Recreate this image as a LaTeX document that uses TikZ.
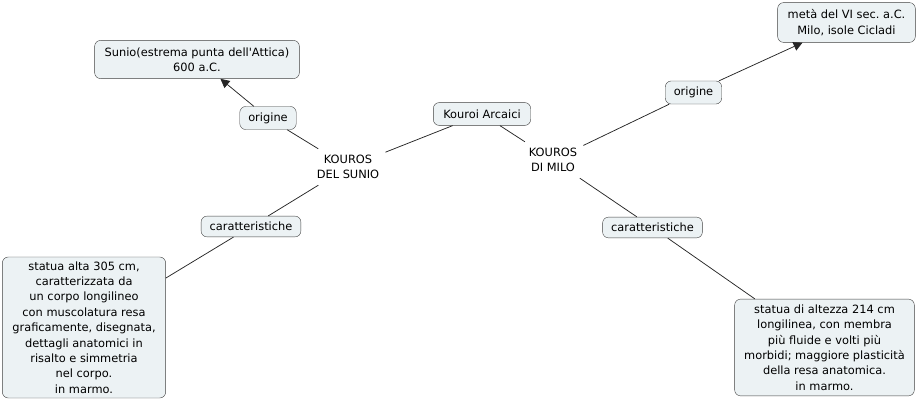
\documentclass[tikz,border=0pt]{standalone}
\usepackage{fontspec}
\setmainfont{DejaVu Sans}
\usetikzlibrary{arrows.meta}
\frenchspacing

\begin{document}
\begin{tikzpicture}[
  x=1pt, y=1pt,
  concept/.style={rectangle, rounded corners=6pt, draw=black!75, fill=boxfill,
                  align=center, inner xsep=10pt, inner ysep=7pt,
                  font=\fontsize{11.4}{15.4}\selectfont},
  bigbox/.style={concept, inner xsep=10pt, inner ysep=4.5pt},
  linkbox/.style={concept, inner xsep=8.5pt, inner ysep=6pt},
  linktxt/.style={align=center, inner sep=6pt, font=\fontsize{11.4}{15.4}\selectfont},
  conn/.style={draw=black!85, line width=0.75pt},
  arr/.style={conn, -{Triangle[length=9pt, width=9pt]}}
]
\definecolor{boxfill}{RGB}{236,242,244}
\useasboundingbox (0,0) rectangle (921,-401);

\node[concept] (arcaici) at (482,-114) {Kouroi Arcaici};
\node[linktxt] (sunio)  at (348,-167) {KOUROS\\ DEL SUNIO};
\node[linktxt] (milo)   at (553,-160) {KOUROS\\ DI MILO};

\node[linkbox] (origS)  at (268,-118) {origine};
\node[concept] (luogoS) at (197,-59.5) {Sunio(estrema punta dell\textquotesingle Attica)\\ 600 a.C.};
\node[linkbox] (caratS) at (251,-226.5) {caratteristiche};
\node[bigbox]  (descrS) at (84,-327.5) {statua alta 305 cm,\\ caratterizzata da\\ un corpo longilineo\\ con muscolatura resa\\ graficamente, disegnata,\\ dettagli anatomici in\\ risalto e simmetria\\ nel corpo.\\ in marmo.};

\node[linkbox] (origM)  at (693.5,-92.5) {origine};
\node[concept] (luogoM) at (846.5,-22.5) {metà del VI sec. a.C.\\ Milo, isole Cicladi};
\node[linkbox] (caratM) at (652.5,-227.5) {caratteristiche};
\node[bigbox, inner ysep=5.5pt, inner xsep=9.5pt] (descrM) at (824.5,-347.5) {statua di altezza 214 cm\\ longilinea, con membra\\ più fluide e volti più\\ morbidi; maggiore plasticità\\ della resa anatomica.\\ in marmo.};

\draw[conn] (sunio) -- (arcaici);
\draw[conn] (arcaici) -- (milo);
\draw[conn] (sunio) -- (origS);
\draw[arr]  (origS) -- (luogoS);
\draw[conn] (sunio) -- (caratS);
\draw[conn] (caratS) -- (descrS);
\draw[conn] (milo) -- (origM);
\draw[arr]  (origM) -- (luogoM);
\draw[conn] (milo) -- (caratM);
\draw[conn] (caratM) -- (descrM);
\end{tikzpicture}
\end{document}
